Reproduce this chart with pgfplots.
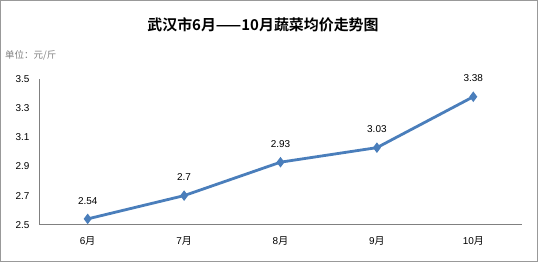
\documentclass[border=0pt]{standalone}
\usepackage{pgfplots}
\pgfplotsset{compat=1.18}
\usepackage{fontspec}
\setmainfont{Liberation Sans}
\newfontfamily\cjk{Noto Sans CJK SC}
\newfontfamily\cjkb{Noto Sans CJK SC Bold}
\definecolor{exblue}{HTML}{4A7EBB}
\begin{document}
\begin{tikzpicture}
\useasboundingbox (0bp,0bp) rectangle (538bp,262bp);
\draw[gray!80, line width=1.2bp] (0.6bp,0.6bp) rectangle (537.4bp,261.4bp);
\node[font=\cjkb\fontsize{15}{17}\selectfont] at (263bp,237bp) {武汉市6月——10月蔬菜均价走势图};
\node[anchor=west, text=gray, font=\cjk\fontsize{9.5}{11}\selectfont, inner sep=0pt] at (5bp,207bp) {单位：元/斤};
\begin{axis}[
  at={(39.5bp,37.3bp)}, anchor=origin,
  scale only axis, width=482bp, height=145.4bp,
  xmin=0, xmax=5, ymin=2.5, ymax=3.5,
  xtick={0.5,1.5,2.5,3.5,4.5},
  xticklabels={6\cjk 月,7\cjk 月,8\cjk 月,9\cjk 月,10\cjk 月},
  ytick={2.5,2.7,2.9,3.1,3.3,3.5},
  yticklabels={2.5,2.7,2.9,3.1,3.3,3.5},
  axis x line*=bottom, axis y line*=left,
  axis line style={gray, line width=0.9bp, -},
  major tick length=0pt,
  tick style={draw=none},
  ticklabel style={font=\fontsize{10}{12}\selectfont},
  xticklabel style={yshift=-8bp},
  yticklabel style={xshift=-6.5bp},
  clip=false,
  nodes near coords,
  point meta=explicit symbolic,
  every node near coord/.append style={font=\fontsize{10}{12}\selectfont, text=black, yshift=10bp},
]
\addplot[exblue, line width=2.8bp, mark=diamond*, mark size=3bp] coordinates {
  (0.5,2.54) [2.54]
  (1.5,2.70) [2.7]
  (2.5,2.93) [2.93]
  (3.5,3.03) [3.03]
  (4.5,3.38) [3.38]
};
\end{axis}
\end{tikzpicture}
\end{document}
